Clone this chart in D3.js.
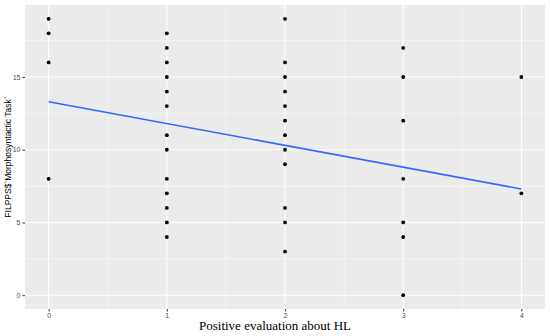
<!DOCTYPE html>
<html>
<head>
<meta charset="utf-8">
<script src="https://cdn.jsdelivr.net/npm/d3@7"></script>
<style>
  body { margin: 0; background: #fff; }
  svg { display: block; }
</style>
</head>
<body>
<div id="chart"></div>
<script>
// data: evaluation level and the task scores seen at that level
var xLevels = [0, 1, 2, 3, 4];
var scores0 = [19, 18, 16, 8];
var scores1 = [18, 17, 16, 15, 14, 13, 11, 10, 8, 7, 6, 5, 4];
var scores2 = [19, 16, 15, 14, 13, 12, 11, 10, 9, 6, 5, 3];
var scores3 = [17, 15, 12, 8, 5, 4, 0];
var scores4 = [15, 7];
// fitted lm line
var fitX = [0, 4];
var fitY = [13.3, 7.3];
var xTicks = [0, 1, 2, 3, 4];
var yTicks = [0, 5, 10, 15];

var width = 550;
var height = 336;
var margin = {top: 5, right: 5, bottom: 27, left: 25};

var points = [];
[scores0, scores1, scores2, scores3, scores4].forEach((arr, i) => {
  arr.forEach(v => points.push({x: xLevels[i], y: v}));
});

var x = d3.scaleLinear().domain([-0.2, 4.2]).range([margin.left, width - margin.right]);
var y = d3.scaleLinear().domain([-0.95, 19.95]).range([height - margin.bottom, margin.top]);

var svg = d3.select("#chart")
    .append("svg")
    .attr("width", width)
    .attr("height", height);

// panel
svg.append("rect")
    .attr("x", margin.left)
    .attr("y", margin.top)
    .attr("width", width - margin.left - margin.right)
    .attr("height", height - margin.top - margin.bottom)
    .attr("fill", "#EBEBEB");

// minor grid
var xMinor = [0.5, 1.5, 2.5, 3.5];
var yMinor = [2.5, 7.5, 12.5, 17.5];
svg.append("g").selectAll("line")
    .data(xMinor)
    .join("line")
      .attr("x1", d => x(d)).attr("x2", d => x(d))
      .attr("y1", margin.top).attr("y2", height - margin.bottom)
      .attr("stroke", "#fff").attr("stroke-width", 0.55);
svg.append("g").selectAll("line")
    .data(yMinor)
    .join("line")
      .attr("y1", d => y(d)).attr("y2", d => y(d))
      .attr("x1", margin.left).attr("x2", width - margin.right)
      .attr("stroke", "#fff").attr("stroke-width", 0.55);

// major grid
svg.append("g").selectAll("line")
    .data(xTicks)
    .join("line")
      .attr("x1", d => x(d)).attr("x2", d => x(d))
      .attr("y1", margin.top).attr("y2", height - margin.bottom)
      .attr("stroke", "#fff").attr("stroke-width", 1.1);
svg.append("g").selectAll("line")
    .data(yTicks)
    .join("line")
      .attr("y1", d => y(d)).attr("y2", d => y(d))
      .attr("x1", margin.left).attr("x2", width - margin.right)
      .attr("stroke", "#fff").attr("stroke-width", 1.1);

// points
svg.append("g").selectAll("circle")
    .data(points)
    .join("circle")
      .attr("cx", d => x(d.x))
      .attr("cy", d => y(d.y))
      .attr("r", 1.9)
      .attr("fill", "#000");

// fitted line
svg.append("path")
    .datum(fitX.map((v, i) => [v, fitY[i]]))
    .attr("fill", "none")
    .attr("stroke", "#3366FF")
    .attr("stroke-width", 1.6)
    .attr("d", d3.line().x(d => x(d[0])).y(d => y(d[1])));

// axes
var styleTicks = g => g
    .call(g => g.select(".domain").remove())
    .call(g => g.selectAll(".tick line").attr("stroke", "#333"))
    .call(g => g.selectAll(".tick text").attr("fill", "#4d4d4d")
        .attr("font-family", "Liberation Sans, Arial, sans-serif").attr("font-size", 7));
var xAxis = g => g
    .attr("transform", `translate(0,${height - margin.bottom})`)
    .call(d3.axisBottom(x).tickValues(xTicks).tickFormat(d3.format("d")).tickSize(2.5).tickPadding(2))
    .call(styleTicks);
var yAxis = g => g
    .attr("transform", `translate(${margin.left},0)`)
    .call(d3.axisLeft(y).tickValues(yTicks).tickFormat(d3.format("d")).tickSize(2.5).tickPadding(2))
    .call(styleTicks);

svg.append("g").call(xAxis);
svg.append("g").call(yAxis);

// titles
svg.append("text")
    .attr("x", 275)
    .attr("y", 330)
    .attr("text-anchor", "middle")
    .attr("font-family", "Liberation Serif, Times New Roman, serif")
    .attr("font-size", 13)
    .attr("fill", "#000")
    .text("Positive evaluation about HL");

svg.append("text")
    .attr("transform", `translate(10.5,${(margin.top + height - margin.bottom) / 2}) rotate(-90)`)
    .attr("text-anchor", "middle")
    .attr("font-family", "Liberation Sans, Arial, sans-serif")
    .attr("font-size", 8.5)
    .attr("fill", "#000")
    .text("FILPPS$`Morphosyntactic Task`");
</script>
</body>
</html>
